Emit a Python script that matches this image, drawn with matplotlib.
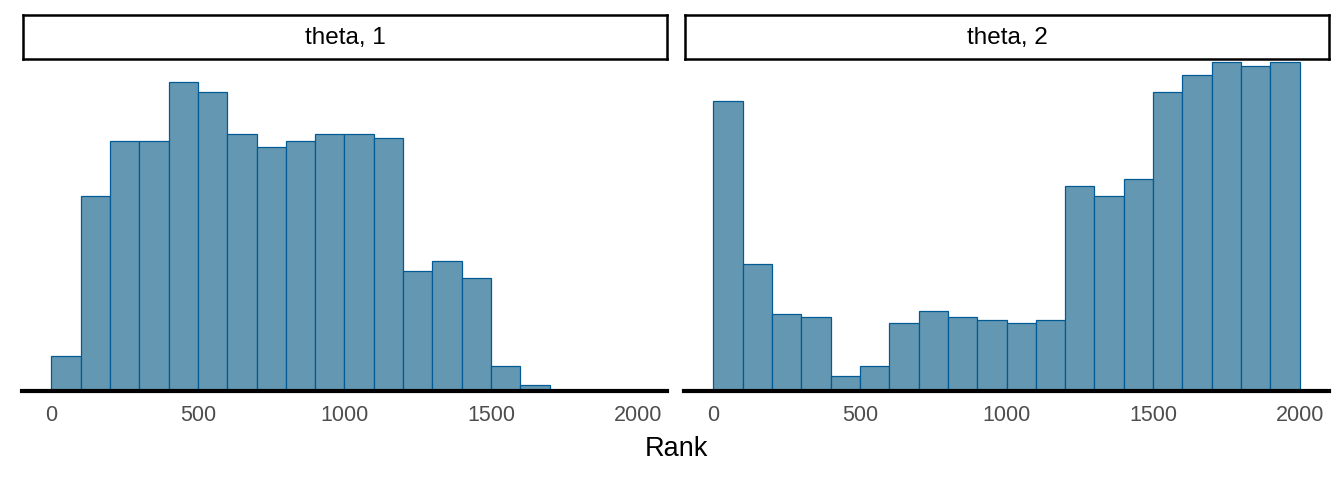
import numpy as np
from matplotlib import pyplot as plt

plt.rcParams['font.family'] = ['Liberation Sans', 'DejaVu Sans']

bin_edges = np.arange(0, 2001, 100)
panels = ['theta, 1', 'theta, 2']
counts_theta1 = [35, 194, 249, 249, 308, 298, 256, 243, 249, 256,
                 256, 252, 120, 129, 113, 25, 6, 0, 0, 0]
counts_theta2 = [289, 126, 77, 74, 15, 25, 68, 80, 74, 71,
                 68, 71, 204, 194, 211, 298, 315, 328, 324, 328]
ticks = [0, 500, 1000, 1500, 2000]

fig = plt.figure(figsize=(13.44, 4.8), dpi=100)
W, H = 1344, 480

def px_axes(x0, y0, x1, y1):
    return fig.add_axes([x0 / W, 1 - y1 / H, (x1 - x0) / W, (y1 - y0) / H])

ymax = max(max(counts_theta1), max(counts_theta2))
for (x0, x1), title, counts in zip([(22, 667), (684, 1329)], panels,
                                   [counts_theta1, counts_theta2]):
    ax = px_axes(x0, 60, x1, 391)
    ax.bar(bin_edges[:-1], counts, width=100, align='edge',
           color='#6497b1', edgecolor='#005b96', linewidth=0.9, zorder=2)
    ax.set_xlim(-100, 2100)
    ax.set_ylim(0, ymax * 1.005)
    ax.set_yticks([])
    ax.set_xticks(ticks)
    ax.tick_params(axis='x', length=0, pad=10, labelsize=15.5, labelcolor='#4d4d4d')
    for s in ['top', 'left', 'right']:
        ax.spines[s].set_visible(False)
    ax.spines['bottom'].set_linewidth(3)
    ax.spines['bottom'].set_color('black')
    ax.spines['bottom'].set_zorder(3)

    sax = px_axes(x0 + 1, 15, x1, 59)
    sax.set_xticks([])
    sax.set_yticks([])
    for s in sax.spines.values():
        s.set_linewidth(1.8)
        s.set_color('black')
    sax.text(0.5, 0.47, title, ha='center', va='center', fontsize=17.5,
             transform=sax.transAxes)

fig.text(676 / W, 1 - 449 / H, 'Rank', ha='center', va='center', fontsize=19.5)

fig.savefig('out.png', dpi=100)
